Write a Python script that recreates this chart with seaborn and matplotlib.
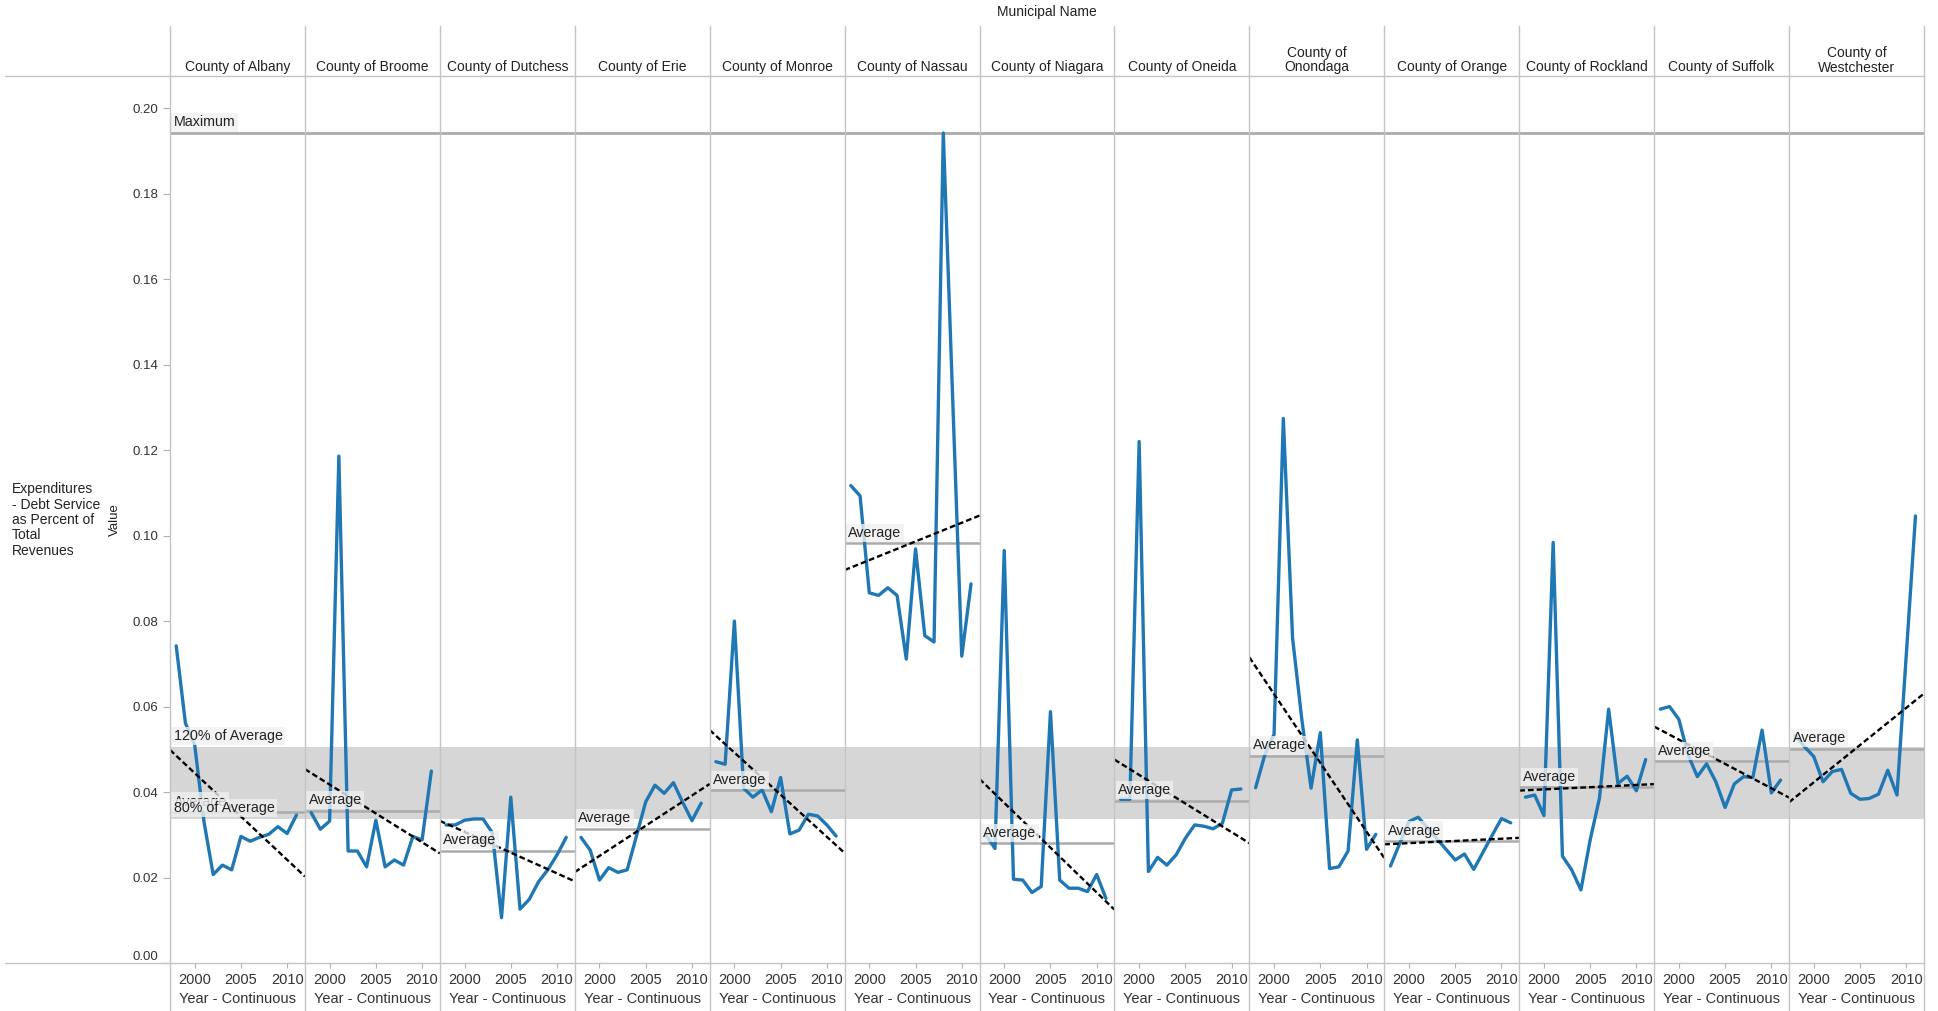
"""Debt service as percent of total revenues, NY counties 1998-2011 (Tableau-style small multiples)."""

import matplotlib.pyplot as plt
import numpy as np
import pandas as pd
import seaborn as sns
from matplotlib.lines import Line2D
from matplotlib.ticker import FormatStrFormatter

W, H = 1938, 1011

YEARS = list(range(1998, 2012))

COUNTIES = [
    "County of Albany", "County of Broome", "County of Dutchess", "County of Erie",
    "County of Monroe", "County of Nassau", "County of Niagara", "County of Oneida",
    "County of Onondaga", "County of Orange", "County of Rockland", "County of Suffolk",
    "County of Westchester",
]
WRAPPED = {"County of Onondaga", "County of Westchester"}

ALBANY = [0.0742, 0.0561, 0.0510, 0.0331, 0.0207, 0.0229, 0.0218, 0.0296, 0.0285, 0.0294, 0.0301, 0.0319, 0.0303, 0.0346]
BROOME = [0.0352, 0.0313, 0.0332, 0.1186, 0.0262, 0.0262, 0.0225, 0.0334, 0.0225, 0.0241, 0.0229, 0.0296, 0.0288, 0.0449]
DUTCHESS = [0.0323, 0.0323, 0.0334, 0.0337, 0.0337, 0.0305, 0.0106, 0.0388, 0.0126, 0.0149, 0.0190, 0.0218, 0.0253, 0.0294]
ERIE = [0.0294, 0.0264, 0.0194, 0.0223, 0.0212, 0.0218, 0.0297, 0.0377, 0.0416, 0.0397, 0.0422, 0.0376, 0.0333, 0.0374]
MONROE = [0.0471, 0.0465, 0.0800, 0.0409, 0.0388, 0.0405, 0.0354, 0.0434, 0.0302, 0.0311, 0.0348, 0.0344, 0.0323, 0.0297]
NASSAU = [0.1117, 0.1093, 0.0866, 0.0860, 0.0878, 0.0860, 0.0711, 0.0969, 0.0766, 0.0751, 0.1942, 0.1330, 0.0718, 0.0887]
NIAGARA = [0.0300, 0.0268, 0.0965, 0.0196, 0.0194, 0.0165, 0.0179, 0.0588, 0.0194, 0.0175, 0.0175, 0.0167, 0.0207, 0.0151]
ONEIDA = [0.0383, 0.0383, 0.1220, 0.0214, 0.0247, 0.0229, 0.0253, 0.0292, 0.0323, 0.0320, 0.0314, 0.0327, 0.0405, 0.0407]
ONONDAGA = [0.0410, 0.0487, 0.0535, 0.1274, 0.0760, 0.0570, 0.0409, 0.0539, 0.0221, 0.0225, 0.0262, 0.0522, 0.0266, 0.0301]
ORANGE = [0.0227, 0.0280, 0.0331, 0.0341, 0.0316, 0.0291, 0.0266, 0.0241, 0.0255, 0.0219, 0.0259, 0.0299, 0.0338, 0.0328]
ROCKLAND = [0.0388, 0.0393, 0.0345, 0.0984, 0.0250, 0.0218, 0.0171, 0.0288, 0.0385, 0.0594, 0.0420, 0.0437, 0.0403, 0.0476]
SUFFOLK = [0.0594, 0.0600, 0.0570, 0.0487, 0.0436, 0.0466, 0.0424, 0.0364, 0.0419, 0.0436, 0.0434, 0.0545, 0.0398, 0.0428]
WESTCHESTER = [0.0532, 0.0506, 0.0483, 0.0424, 0.0448, 0.0453, 0.0397, 0.0383, 0.0385, 0.0395, 0.0451, 0.0393, 0.0720, 0.1046]

SERIES = dict(zip(COUNTIES, [
    ALBANY, BROOME, DUTCHESS, ERIE, MONROE, NASSAU, NIAGARA, ONEIDA,
    ONONDAGA, ORANGE, ROCKLAND, SUFFOLK, WESTCHESTER,
]))

X_TICKS = [2000, 2005, 2010]
Y_TICKS = [0.00, 0.02, 0.04, 0.06, 0.08, 0.10, 0.12, 0.14, 0.16, 0.18, 0.20]
XLIM = (1997.33, 2011.92)
YLIM = (0.0, 0.2076)

BLUE = "#1f77b4"
BAND = "#d6d6d6"
REF_GREY = "#ababab"
SEP_GREY = "#c4c4c4"
TEXT = "#222222"

# pixel geometry of the pane area in the reference
PANE_L, PANE_R, PANE_T, PANE_B = 170, 1924, 75.7, 963


def build_dataset():
    rows = []
    for county, vals in SERIES.items():
        for yr, v in zip(YEARS, vals):
            rows.append({"County": county, "Year": yr, "Value": v})
    return pd.DataFrame(rows)


def fx(px):
    return px / W


def fy(py):
    return 1 - py / H


def ref_label(ax, text, y, size=10.3):
    ax.annotate(
        text, xy=(0, y), xycoords=("axes fraction", "data"),
        xytext=(2.6, 7.6), textcoords="offset points",
        ha="left", va="center", fontsize=size, color=TEXT, zorder=6,
        bbox=dict(boxstyle="square,pad=0.15", fc="#f0f0f0", ec="none", alpha=0.8),
    )


def main():
    sns.set_theme(style="white")
    plt.rcParams["font.family"] = ["Liberation Sans", "DejaVu Sans"]

    df = build_dataset()
    overall = df["Value"].mean()
    band_lo, band_hi = 0.8 * overall, 1.2 * overall
    vmax = df["Value"].max()

    g = sns.FacetGrid(df, col="County", col_order=COUNTIES, sharex=True, sharey=True,
                      despine=False, height=8, aspect=0.15)
    g.map_dataframe(sns.lineplot, x="Year", y="Value", color=BLUE, linewidth=2.4,
                    errorbar=None, zorder=2.5)
    g.set_titles("")
    fig = g.figure
    fig.set_size_inches(W / 100, H / 100)
    fig.subplots_adjust(left=fx(PANE_L), right=fx(PANE_R), top=fy(PANE_T),
                        bottom=fy(PANE_B), wspace=0)

    xs = np.array(XLIM)
    for i, (ax, county) in enumerate(zip(g.axes.flat, COUNTIES)):
        ax.set_xlim(XLIM)
        ax.set_ylim(YLIM)
        for sp in ax.spines.values():
            sp.set_visible(False)
        ax.set_facecolor("white")

        sub = df[df["County"] == county]
        avg = sub["Value"].mean()
        slope, icept = np.polyfit(sub["Year"], sub["Value"], 1)

        ax.axhspan(band_lo, band_hi, color=BAND, lw=0, zorder=0.5)
        ax.axhline(vmax, color=REF_GREY, lw=2.0, zorder=1)
        ax.axhline(avg, color=REF_GREY, lw=1.8, zorder=1.2)
        ax.plot(xs, slope * xs + icept, color="black", lw=1.7,
                linestyle=(0, (2.4, 1.3)), zorder=3, clip_on=True)

        ref_label(ax, "Average", avg)
        if i == 0:
            ref_label(ax, "Maximum", vmax)
            ref_label(ax, "120% of Average", band_hi)
            ref_label(ax, "80% of Average", band_lo)

        ax.set_xticks(X_TICKS)
        ax.set_xticklabels([str(t) for t in X_TICKS])
        ax.tick_params(axis="x", bottom=True, length=3.6, width=0.8, color="#b0b0b0",
                       pad=3.7, labelsize=10.5, labelcolor="#333333")
        ax.set_xlabel("Year - Continuous", fontsize=10.5, color="#333333", labelpad=3.5)
        ax.set_ylabel("")
        if i == 0:
            ax.set_yticks(Y_TICKS)
            ax.yaxis.set_major_formatter(FormatStrFormatter("%.2f"))
            ax.tick_params(axis="y", left=True, length=5, width=0.8, color="#b0b0b0",
                           pad=3.2, labelsize=9.5, labelcolor="#333333")
            ax.get_yticklabels()[0].set_verticalalignment("bottom")
        else:
            ax.tick_params(axis="y", left=False, labelleft=False)

        # column header
        pos = ax.get_position()
        cx = (pos.x0 + pos.x1) / 2
        label = county.replace("of ", "of\n") if county in WRAPPED else county
        fig.text(cx, fy(74.5), label, ha="center", va="bottom", fontsize=10,
                 color=TEXT, linespacing=1.08)

    # frame lines: column separators, header rule, axis baseline
    edges = [ax.get_position().x0 for ax in g.axes.flat] + [g.axes.flat[-1].get_position().x1]
    for x in edges:
        fig.add_artist(Line2D([x, x], [fy(25.7), 0], transform=fig.transFigure,
                              color=SEP_GREY, lw=1.0))
    for yline in (PANE_T, PANE_B):
        fig.add_artist(Line2D([fx(5), fx(PANE_R)], [fy(yline), fy(yline)],
                              transform=fig.transFigure, color=SEP_GREY, lw=1.0))

    fig.text(fx(1047), fy(12), "Municipal Name", ha="center", va="center",
             fontsize=10, color=TEXT)
    fig.text(fx(12), fy(520), "Expenditures\n- Debt Service\nas Percent of\nTotal\nRevenues",
             ha="left", va="center", fontsize=10, color=TEXT, linespacing=1.13)
    fig.text(fx(115), fy(520), "Value", rotation=90, ha="center", va="center",
             fontsize=9.5, color=TEXT)

    fig.savefig("out.png", dpi=100)


if __name__ == "__main__":
    main()
